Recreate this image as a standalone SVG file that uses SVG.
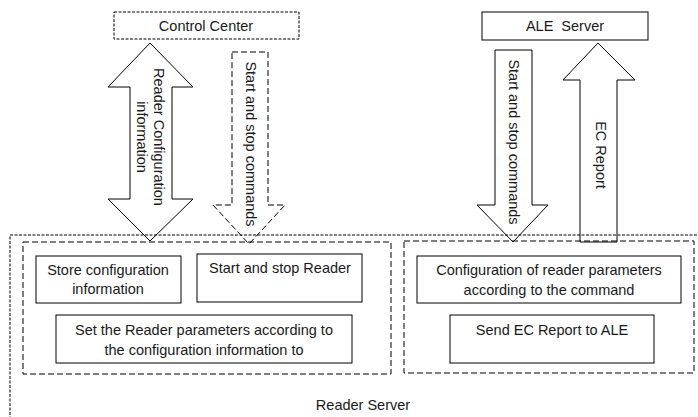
<svg xmlns="http://www.w3.org/2000/svg" width="698" height="417" viewBox="0 0 698 417">
<style>
text{font-family:"Liberation Sans",Arial,sans-serif;font-size:14.5px;fill:#1a1a1a;text-anchor:middle;dominant-baseline:central}
.box{fill:#fff;stroke:#000;stroke-width:1}
.arrow{fill:#fff;stroke:#000;stroke-width:1}
.dashedArrow{fill:#fff;stroke:#000;stroke-width:1;stroke-dasharray:6,3}
.fine{fill:none;stroke:#000;stroke-width:1;stroke-dasharray:3,1.5}
.inner{fill:none;stroke:#000;stroke-width:1;stroke-dasharray:6,3}
</style>
<rect width="698" height="417" fill="#fff"/>
<g id="connectors">
  <g id="reader-config-arrow">
    <polygon class="arrow" points="150,43 193,87 172,87 172,199 193,199 150,241 108,199 130,199 130,87 108,87"/>
    <text transform="translate(159,137) rotate(90)">Reader Configuration</text>
    <text transform="translate(142,137) rotate(90)">information</text>
  </g>
  <g id="cc-start-stop-arrow">
    <polygon class="dashedArrow" points="232,52 268,52 268,205 285,205 249,244 213,205 232,205"/>
    <text transform="translate(251,144) rotate(90)">Start and stop commands</text>
  </g>
  <g id="ale-start-stop-arrow">
    <polygon class="arrow" points="495,50 532,50 532,205 548,205 513,242 477,205 495,205"/>
    <text transform="translate(514,142) rotate(90)">Start and stop commands</text>
  </g>
  <g id="ec-report-arrow">
    <polygon class="arrow" points="598,43 635,80 617,80 617,242 580,242 580,80 563,80"/>
    <text transform="translate(601,155) rotate(90)">EC Report</text>
  </g>
</g>
<g id="control-center">
  <rect x="114" y="12" width="185" height="27" fill="#fff" stroke="#000" stroke-dasharray="3,1.5"/>
  <text x="206" y="26">Control Center</text>
</g>
<g id="ale-server">
  <rect class="box" x="482" y="12" width="166" height="28"/>
  <text x="565" y="26" xml:space="preserve">ALE  Server</text>
</g>
<g id="reader-server">
  <rect class="fine" x="10" y="235" width="700" height="200"/>
  <text x="363" y="405">Reader Server</text>
</g>
<g id="left-group">
  <rect class="inner" x="23" y="242" width="368" height="132"/>
</g>
<g id="right-group">
  <rect class="inner" x="404" y="241" width="290" height="132"/>
</g>
<g id="store-config">
  <rect class="box" x="36" y="256" width="145" height="47"/>
  <text x="108" y="270">Store configuration</text>
  <text x="108" y="289">information</text>
</g>
<g id="start-stop-reader">
  <rect class="box" x="197" y="254" width="165" height="48"/>
  <text x="280" y="268">Start and stop Reader</text>
</g>
<g id="set-reader-params">
  <rect class="box" x="56" y="315" width="296" height="48"/>
  <text x="204" y="330">Set the Reader parameters according to</text>
  <text x="204" y="350">the configuration information to</text>
</g>
<g id="config-reader-params">
  <rect class="box" x="417" y="256" width="264" height="47"/>
  <text x="549" y="270">Configuration of reader parameters</text>
  <text x="549" y="290">according to the command</text>
</g>
<g id="send-ec-report">
  <rect class="box" x="450" y="315" width="204" height="48"/>
  <text x="552" y="330">Send EC Report to ALE</text>
</g>
</svg>
